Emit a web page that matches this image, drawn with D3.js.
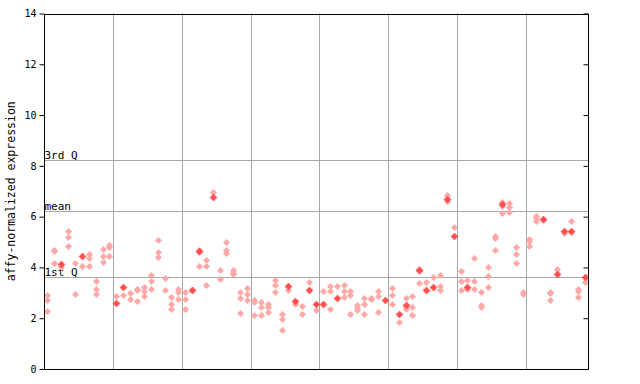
<!DOCTYPE html>
<html>
<head>
<meta charset="utf-8">
<script src="https://cdn.jsdelivr.net/npm/d3@7"></script>
<style>
  body { margin: 0; background: #fff; }
  text { font-family: "DejaVu Sans Mono", monospace; fill: #000; }
</style>
</head>
<body>
<div id="chart"></div>
<script>
// one entry per sample column: hatched replicate values
let hatched = [
  [2.93, 2.72, 2.28], [4.69, 4.65, 4.16], [4.02], [5.43, 5.19, 4.83], [4.16, 2.94],
  [4.06], [4.53, 4.36, 4.06], [3.47, 3.15, 2.94], [4.71, 4.44, 4.2], [4.87, 4.81, 4.45],
  [2.88], [2.91], [2.98, 2.76], [3.16, 3.1, 2.67], [3.22, 3.07, 2.88],
  [3.7, 3.47, 3.14], [5.08, 4.61, 4.4], [3.58, 3.11], [2.84, 2.56, 2.35], [3.14, 3.03, 2.77],
  [3.03, 2.76, 2.36], [3.1], [4.67, 4.6, 4.06], [4.31, 4.07, 3.3], [6.96],
  [3.89, 3.54], [5.0, 4.67, 4.58], [3.91, 3.8, 3.74], [3.02, 2.78, 2.19], [3.19, 2.94, 2.72],
  [2.7, 2.64, 2.13], [2.64, 2.44, 2.13], [2.56, 2.45, 2.23], [3.5, 3.3, 3.02], [2.17, 1.97, 1.54],
  [3.1], [2.56], [2.48, 2.17], [3.44], [2.32],
  [3.07], [3.27, 3.07, 2.35], [3.27], [3.3, 3.07, 2.84], [3.07, 2.9, 2.17],
  [2.51, 2.39, 2.33], [2.78, 2.56, 2.17], [2.78, 2.74], [3.06, 2.86, 2.24], [],
  [3.18, 2.9, 2.57], [1.85], [2.8, 2.43, 2.35], [2.88, 2.44, 2.13], [3.93, 3.85, 3.37],
  [3.43], [3.62], [3.69, 3.27, 3.12], [6.85, 6.6], [5.58],
  [3.86, 3.47, 3.1], [3.5, 3.15], [4.36, 3.47, 3.14], [3.02, 2.52, 2.46], [4.0, 3.65, 3.22],
  [5.23, 5.16, 4.67], [6.56, 6.43, 6.13], [6.52, 6.37, 6.18], [4.79, 4.52, 4.16], [3.02, 2.96],
  [5.1, 5.03, 4.86], [6.02, 5.95, 5.83], [5.86], [3.05, 2.98, 2.71], [3.93],
  [5.34], [5.83, 5.4], [3.14, 3.07, 2.82], [3.43]
];

// solid marker per column (null where the column has none)
let filled = [
  null, null, 4.14, null, null, 4.45, null, null, null, null,
  2.61, 3.22, null, null, null, null, null, null, null, null,
  null, 3.12, 4.64, null, 6.79, null, null, null, null, null,
  null, null, null, null, null, 3.28, 2.69, null, 3.12, 2.57,
  2.55, null, 2.81, null, null, null, null, null, null, 2.73,
  null, 2.15, 2.52, null, 3.89, 3.12, 3.22, null, 6.7, 5.25,
  null, 3.22, null, null, null, null, 6.5, null, null, null,
  null, null, 5.91, null, 3.74, 5.45, 5.45, null, 3.61
];

let yTicks = [0, 2, 4, 6, 8, 10, 12, 14];
let quartiles = [{label: "3rd Q", value: 8.22}, {label: "mean", value: 6.21}, {label: "1st Q", value: 3.62}];

let red = "#ff5050";
let margin = {left: 44, right: 52, top: 13.5, bottom: 15};
let W = 640, H = 384;

let svg = d3.select("#chart").append("svg")
  .attr("width", W)
  .attr("height", H);

// checker fill for the hatched diamonds
let pat = svg.append("defs").append("pattern")
  .attr("id", "hatch")
  .attr("patternUnits", "userSpaceOnUse")
  .attr("width", 2).attr("height", 2);
pat.append("rect").attr("width", 2).attr("height", 2).attr("fill", "#fff");
pat.append("rect").attr("x", 0).attr("y", 0).attr("width", 1).attr("height", 1).attr("fill", red);
pat.append("rect").attr("x", 1).attr("y", 1).attr("width", 1).attr("height", 1).attr("fill", red);

let x = d3.scaleBand()
  .domain(d3.range(hatched.length))
  .range([margin.left, W - margin.right])
  .paddingInner(0);

let y = d3.scaleLinear()
  .domain([0, 14])
  .range([H - margin.bottom, margin.top]);

let x0 = margin.left, x1 = W - margin.right;

// vertical grid every 10 samples
svg.append("g").selectAll("line")
  .data(d3.range(10, hatched.length, 10))
  .enter().append("line")
  .attr("x1", d => Math.round(x(d)) + 0.5)
  .attr("x2", d => Math.round(x(d)) + 0.5)
  .attr("y1", y(0)).attr("y2", y(14))
  .attr("stroke", "#a8a8a8")
  .attr("stroke-width", 1);

// quartile lines
svg.append("g").selectAll("line")
  .data(quartiles)
  .enter().append("line")
  .attr("x1", x0).attr("x2", x1)
  .attr("y1", d => Math.round(y(d.value)) + 0.5)
  .attr("y2", d => Math.round(y(d.value)) + 0.5)
  .attr("stroke", "#a8a8a8")
  .attr("stroke-width", 1);

svg.append("g").selectAll("text")
  .data(quartiles)
  .enter().append("text")
  .attr("x", x0 + 0.5)
  .attr("y", d => Math.round(y(d.value)) - 1)
  .style("font-size", "11px")
  .text(d => d.label);

// points
let pts = [];
hatched.forEach((vals, i) => vals.forEach(v => pts.push({i: i, v: v, solid: false})));
filled.forEach((v, i) => { if (v !== null) pts.push({i: i, v: v, solid: true}); });

let diamond = "M0,-3.5L3.5,0L0,3.5L-3.5,0Z";
svg.append("g").selectAll("path")
  .data(pts)
  .enter().append("path")
  .attr("d", diamond)
  .attr("transform", d => "translate(" + (Math.round(x(d.i) + x.bandwidth() / 2) + 0.5) + "," + (Math.round(y(d.v)) + 0.5) + ")")
  .attr("fill", d => d.solid ? red : "url(#hatch)")
  .attr("stroke", d => d.solid ? red : "none")
  .attr("stroke-width", 0.6);

// axes
let yAxisL = d3.axisLeft(y).tickValues(yTicks).tickSize(5).tickPadding(3).tickFormat(d3.format("d"));
let yAxisR = d3.axisLeft(y).tickValues(yTicks).tickSize(5).tickFormat("");

let gl = svg.append("g")
  .attr("transform", "translate(" + (x0 + 0.5) + ",0)")
  .call(yAxisL);
gl.select(".domain").remove();
gl.selectAll("text").style("font-size", "10px").style("font-family", "'DejaVu Sans Mono', monospace");

let gr = svg.append("g")
  .attr("transform", "translate(" + (x1 + 0.5) + ",0)")
  .call(yAxisR);
gr.select(".domain").remove();

svg.append("rect")
  .attr("x", x0 + 0.5).attr("y", Math.round(y(14)) + 0.5)
  .attr("width", x1 - x0).attr("height", Math.round(y(0)) - Math.round(y(14)))
  .attr("fill", "none")
  .attr("stroke", "#000")
  .attr("stroke-width", 1);

svg.append("text")
  .attr("transform", "translate(15," + ((y(0) + y(14)) / 2) + ") rotate(-90)")
  .attr("text-anchor", "middle")
  .style("font-size", "11.5px")
  .text("affy-normalized expression");
</script>
</body>
</html>
